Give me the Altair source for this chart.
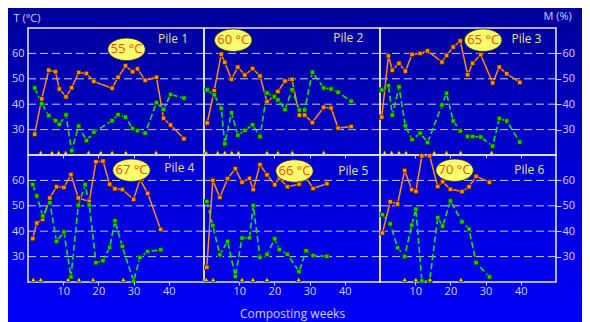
import math
import altair as alt
import pandas as pd

W, H = 176, 127
FONT = "Open Sans"
LIGHT = "#d0d2ff"

# ---- data ----
weeks1 = [1.9, 3.9, 5.9, 7.8, 8.9, 10.8, 12.4, 14.4, 16.6, 18.7, 23.9, 25.6, 27.7, 29.7, 31.1, 33.3, 36.5, 38.5, 40.5, 44.3]
temp1 = [28.2, 42.1, 53.4, 52.8, 46.0, 42.9, 46.5, 52.5, 52.1, 49.0, 46.3, 50.6, 55.1, 52.8, 53.9, 49.4, 50.6, 34.5, 31.8, 26.4]
moist1 = [46.4, 40.2, 35.5, 33.5, 32.1, 35.8, 21.7, 31.4, 25.7, 29.0, 33.5, 35.9, 34.9, 30.4, 29.6, 28.6, 40.6, 38.0, 43.8, 42.4]
turn1 = [3.6, 6.8, 8.7, 10.7, 17.2, 20.7, 23.9, 27.8, 36.4]

weeks2 = [0.9, 2.9, 4.9, 5.9, 7.8, 9.6, 11.6, 13.8, 15.9, 17.9, 20.0, 21.0, 23.0, 25.0, 27.1, 28.6, 30.8, 34.0, 36.1, 38.1, 41.8]
temp2 = [32.6, 45.3, 59.7, 56.5, 49.8, 54.6, 51.5, 54.0, 51.1, 41.0, 43.2, 45.0, 49.1, 49.8, 35.7, 35.7, 32.8, 38.8, 38.5, 30.6, 31.2]
moist2 = [45.6, 43.7, 38.4, 24.4, 36.6, 27.8, 29.7, 31.9, 27.2, 44.4, 42.9, 41.7, 37.9, 45.7, 37.7, 37.7, 52.6, 46.4, 46.0, 44.7, 41.2]
turn2 = [0.6, 3.9, 5.9, 7.9, 9.8, 17.9, 21.0, 25.1, 34.0]

weeks3 = [0.5, 2.4, 3.5, 5.4, 7.2, 9.1, 11.4, 13.5, 17.6, 18.9, 20.8, 22.8, 24.9, 26.3, 28.6, 32.0, 33.9, 36.0, 39.7]
temp3 = [34.9, 59.0, 53.4, 56.1, 53.0, 59.6, 60.0, 61.0, 56.6, 59.2, 62.5, 64.9, 51.6, 56.1, 59.5, 48.4, 54.6, 52.0, 48.6]
moist3 = [45.6, 47.3, 35.7, 46.8, 31.5, 26.1, 28.6, 24.9, 39.7, 44.3, 33.4, 29.5, 27.3, 27.3, 27.1, 23.5, 34.4, 33.4, 25.1]
turn3 = [1.3, 3.3, 5.4, 7.4, 15.4, 18.9, 22.9, 31.7]

weeks4 = [1.35, 2.5, 4.2, 6.2, 8.1, 10.2, 12.2, 14.3, 16.25, 17.4, 19.3, 21.3, 23.2, 24.7, 26.8, 30.0, 31.8, 34.0, 37.7]
temp4 = [37.1, 43.2, 44.7, 53.1, 57.5, 57.2, 62.3, 53.1, None, 51.7, 67.3, 67.6, 58.5, 56.7, 56.4, 52.5, 60.4, 54.9, 40.7]
moist4 = [58.4, 53.9, 46.0, 51.2, 36.0, 39.7, 22.0, 50.3, 58.3, 50.3, 27.6, 28.4, 33.6, 44.1, 34.0, 20.3, 29.7, 32.0, 32.7]
turn4 = [1.5, 3.6, 11.4, 14.5, 18.5, 27.1]

weeks5 = [0.8, 2.5, 4.5, 6.7, 8.9, 10.8, 12.9, 14.0, 15.9, 17.9, 20.1, 21.4, 23.7, 27.0, 29.0, 31.0, 34.9]
temp5 = [25.8, 60.0, 53.3, 60.7, 64.6, 59.3, 60.8, 56.4, 66.2, 62.2, 58.3, 60.9, 57.5, 58.5, 61.1, 56.8, 58.7]
moist5 = [51.7, 42.2, 30.7, 36.0, 22.2, 37.3, 37.4, 50.1, 29.7, 30.9, 37.0, 32.8, 30.9, 24.1, 32.3, 30.4, 30.1]
turn5 = [0.6, 2.6, 10.8, 13.9, 17.9, 26.9]

weeks6 = [0.7, 2.9, 5.0, 7.0, 9.0, 10.2, 11.9, 14.1, 16.4, 17.8, 20.0, 23.3, 25.3, 27.3, 31.1]
temp6 = [39.3, 51.6, 50.7, 63.9, 56.4, 55.7, 69.7, 69.7, 57.6, 59.5, 56.5, 55.6, 57.5, 61.6, 59.3]
moist6 = [46.5, 42.9, 33.5, 30.0, 42.4, 48.7, 20.4, 20.4, 45.3, 42.0, 51.9, 43.7, 40.8, 27.6, 22.0]
turn6 = [7.0, 10.2, 14.2, 23.0]

peak_labels = ["55 °C", "60 °C", "65 °C", "67 °C", "66 °C", "70 °C"]
peak_x = [28.0, 8.3, 29.3, 29.4, 25.7, 21.2]
peak_y = [61.6, 65.2, 65.2, 64.0, 63.7, 64.0]
pile_names = ["Pile 1", "Pile 2", "Pile 3", "Pile 4", "Pile 5", "Pile 6"]
pile_x = [41.2, 41.0, 41.6, 43.0, 42.4, 42.4]
pile_y = [65.8, 66.1, 65.6, 64.7, 63.7, 64.0]
grid_values = [30, 40, 50, 60]
x_ticks = [10, 20, 30, 40]

series = [
    (weeks1, temp1, moist1, turn1),
    (weeks2, temp2, moist2, turn2),
    (weeks3, temp3, moist3, turn3),
    (weeks4, temp4, moist4, turn4),
    (weeks5, temp5, moist5, turn5),
    (weeks6, temp6, moist6, turn6),
]

# ellipse outline for the peak-temperature badges
ELLIPSE = "M" + " L".join(
    f"{math.cos(2 * math.pi * k / 36):.3f},{0.6 * math.sin(2 * math.pi * k / 36):.3f}" for k in range(36)
) + " Z"


def make_panel(i):
    row, col = divmod(i, 3)
    weeks, temp, moist, turn = series[i]
    xs = alt.Scale(domain=[0, 50], nice=False, zero=False)
    ys = alt.Scale(domain=[20, 70], nice=False, zero=False)

    if row == 1:
        xaxis = alt.Axis(values=x_ticks, tickSize=3, tickColor=LIGHT, labelPadding=0,
                         labelColor=LIGHT, labelFontSize=11, labelFont=FONT,
                         domain=False, grid=False, zindex=1,
                         title=("Composting weeks" if col == 1 else None),
                         titleColor=LIGHT, titleFont=FONT, titleFontSize=12,
                         titleFontWeight="normal", titleY=31, titleBaseline="middle")
    else:
        xaxis = alt.Axis(values=x_ticks, tickSize=3, tickColor=LIGHT, labels=False,
                         domain=False, grid=False, zindex=1, title=None)

    if col == 0:
        yaxis = alt.Axis(orient="left", values=grid_values, ticks=False, domain=False,
                         grid=False, labelColor=LIGHT, labelFontSize=11, labelFont=FONT,
                         labelPadding=4, zindex=1,
                         title=("T (°C)" if row == 0 else None), titleColor=LIGHT,
                         titleFont=FONT, titleFontSize=11, titleFontWeight="normal",
                         titleAngle=0, titleX=-15, titleY=-10, titleAlign="left",
                         titleBaseline="middle")
    elif col == 2:
        yaxis = alt.Axis(orient="right", values=grid_values, ticks=True, tickSize=5,
                         tickColor=LIGHT, domain=False, grid=False, labelColor=LIGHT,
                         labelFontSize=11, labelFont=FONT, labelPadding=1, zindex=1,
                         title=("M (%)" if row == 0 else None), titleColor=LIGHT,
                         titleFont=FONT, titleFontSize=11, titleFontWeight="normal",
                         titleAngle=0, titleX=-13, titleY=-12, titleAlign="left",
                         titleBaseline="middle")
    else:
        yaxis = None

    def X(f):
        return alt.X(f"{f}:Q", scale=xs, axis=xaxis)

    def Y(f):
        return alt.Y(f"{f}:Q", scale=ys, axis=yaxis)

    df = pd.DataFrame({"week": weeks, "temp": temp, "moist": moist})
    df_t = df.dropna(subset=["temp"])
    layers = []

    if i == 0:
        grad = alt.Gradient(gradient="linear", x1=0, x2=0, y1=0, y2=1,
                            stops=[alt.GradientStop(color="#00009a", offset=0),
                                   alt.GradientStop(color="#0000d2", offset=0.5),
                                   alt.GradientStop(color="#0000fa", offset=1)])
        layers.append(alt.Chart(alt.Data(values=[{}])).mark_rect(fill=grad).encode(
            x=alt.value(-20), x2=alt.value(554), y=alt.value(-20), y2=alt.value(294)))

    layers.append(alt.Chart(pd.DataFrame({"v": grid_values})).mark_rule(
        color="#c8ccff", strokeWidth=1, strokeDash=[8, 4]).encode(y=Y("v")))

    layers.append(alt.Chart(alt.Data(values=[{}])).mark_rect(
        filled=False, stroke="#e8eaff", strokeWidth=1.5).encode(
        x=alt.value(0), x2=alt.value(W), y=alt.value(0), y2=alt.value(H)))

    layers.append(alt.Chart(df_t).mark_line(color="#ff8a1c", strokeWidth=1.5).encode(
        x=X("week"), y=Y("temp")))
    layers.append(alt.Chart(df).mark_line(color="#18e020", strokeWidth=1.6,
                                          strokeDash=[6, 3]).encode(x=X("week"), y=Y("moist")))
    layers.append(alt.Chart(df_t).mark_square(size=20, fill="#ff8a1c", stroke="#3a1800",
                                              strokeWidth=0.8, opacity=1).encode(
        x=X("week"), y=Y("temp")))
    layers.append(alt.Chart(df).mark_square(size=20, fill="#10d010", stroke="#002a00",
                                            strokeWidth=0.8, opacity=1).encode(
        x=X("week"), y=Y("moist")))

    tdf = pd.DataFrame({"week": turn, "base": [20] * len(turn)})
    layers.append(alt.Chart(tdf).mark_point(shape="triangle-up", filled=True, size=26,
                                            fill="#f2e400", stroke="#2a2a00",
                                            strokeWidth=0.8, opacity=1, yOffset=-2.5).encode(
        x=X("week"), y=Y("base")))

    bdf = pd.DataFrame({"x": [peak_x[i]], "y": [peak_y[i]], "t": [peak_labels[i]]})
    layers.append(alt.Chart(bdf).mark_point(shape=ELLIPSE, size=1400, filled=True,
                                            fill="#ffff6e", stroke="#303000",
                                            strokeWidth=0.8, opacity=1).encode(
        x=X("x"), y=Y("y")))
    layers.append(alt.Chart(bdf).mark_text(color="#ff4800", fontSize=13, font=FONT).encode(
        x=X("x"), y=Y("y"), text="t:N"))

    pdf = pd.DataFrame({"x": [pile_x[i]], "y": [pile_y[i]], "t": [pile_names[i]]})
    layers.append(alt.Chart(pdf).mark_text(color="#e6e08e", fontSize=12, font=FONT).encode(
        x=X("x"), y=Y("y"), text="t:N"))

    return alt.layer(*layers).properties(width=W, height=H)


chart = alt.concat(*[make_panel(i) for i in range(6)], columns=3, spacing=0,
                   bounds="flush").properties(padding=0, background="#0000c8").configure_view(
    strokeWidth=0)

chart.save("out.html", embed_options={"renderer": "svg", "actions": False})
